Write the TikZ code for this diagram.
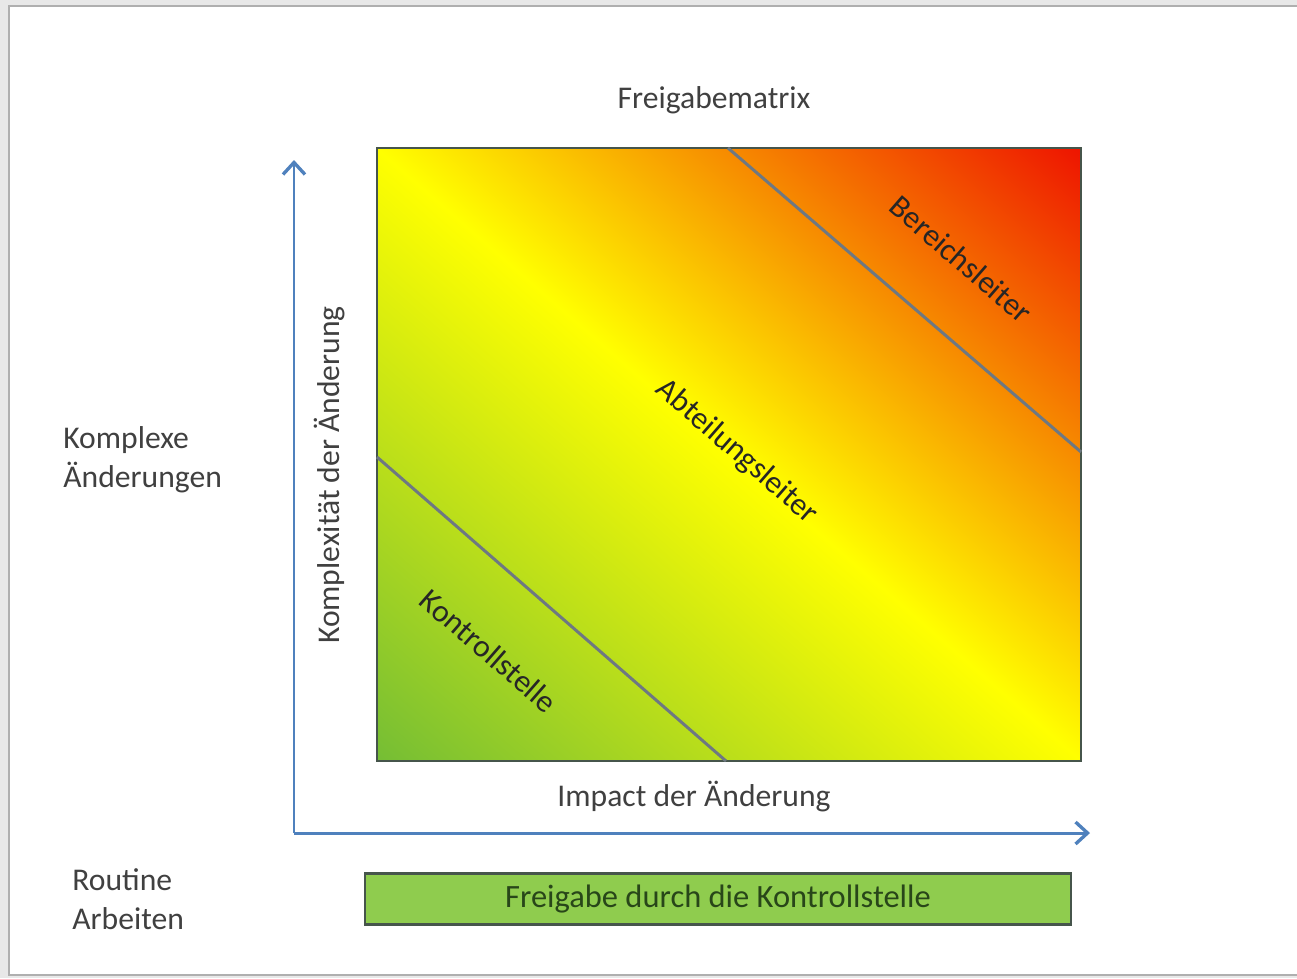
\documentclass[tikz,border=0pt]{standalone}
\usepackage{fontspec}
\setmainfont{Carlito}
\usepackage{tikz}
\usetikzlibrary{arrows.meta, positioning, calc}
\usepackage{xcolor}
\definecolor{frameback}{RGB}{232,232,232}
\definecolor{frameline}{RGB}{175,175,175}
\definecolor{labelgray}{RGB}{64,64,64}
\definecolor{axisblue}{RGB}{79,129,189}
\definecolor{borderdark}{RGB}{70,85,75}
\definecolor{splitgray}{RGB}{110,120,130}
\definecolor{boxgreen}{RGB}{143,204,78}
\definecolor{boxtext}{RGB}{40,70,25}
\definecolor{lowgreen}{RGB}{118,190,52}
\definecolor{midyellow}{RGB}{255,255,0}
\definecolor{topred}{RGB}{238,22,0}
\pgfdeclarehorizontalshading{freigabeshade}{100bp}{color(0bp)=(lowgreen); color(15bp)=(lowgreen); color(50bp)=(midyellow); color(85bp)=(topred); color(100bp)=(topred)}

\begin{document}
\begin{tikzpicture}[
    x=0.02cm, y=-0.02cm,
    label/.style={font=\fontsize{18}{22}\selectfont, text=labelgray, align=left, inner sep=0pt},
    region/.style={font=\fontsize{18}{22}\selectfont, text=black!85, inner sep=0pt, rotate=-41},
    axis/.style={-{Straight Barb[length=2.4mm, width=4.4mm, line width=1.9pt]}, line width=1.7pt, draw=axisblue},
    split/.style={line width=1.7pt, draw=splitgray},
    routinebox/.style={rectangle, draw=borderdark, fill=boxgreen, line width=1.4pt, minimum width=706*0.02cm, minimum height=51*0.02cm, font=\fontsize{18.5}{22}\selectfont, text=boxtext},
]
    % Frame
    \useasboundingbox (0,0) rectangle (1297,978);
    \fill[frameback] (0,0) rectangle (1297,978);
    \draw[frameline, fill=white, line width=1.2pt] (9,6) rectangle (1310,975);

    % Title
    \node[label] (title) at (714,100) {Freigabematrix};

    % Matrix
    \coordinate (msw) at (377,761);
    \coordinate (mne) at (1081,148);
    \shade[shading=freigabeshade, shading angle=49] (msw) rectangle (mne);
    \draw[borderdark, line width=1.4pt] (msw) rectangle (mne);

    % Split lines
    \coordinate (upA) at (728,148);
    \coordinate (upB) at (1081,452);
    \coordinate (loA) at (377,457);
    \coordinate (loB) at (726,761);
    \draw[split] (upA) -- (upB);
    \draw[split] (loA) -- (loB);

    % Region labels
    \node[region] (bereich) at (961,259) {Bereichsleiter};
    \node[region] (abteilung) at (737,452) {Abteilungsleiter};
    \node[region] (kontroll) at (489,651) {Kontrollstelle};

    % Axes
    \coordinate (origin) at (294,833);
    \coordinate (ytip) at (294,160);
    \coordinate (xtip) at (1090,833);
    \draw[axis] (origin) -- (ytip);
    \draw[axis] (origin) -- (xtip);

    % Axis labels
    \node[label, rotate=90] (ylab) at (330,475) {Komplexität der Änderung};
    \node[label] (xlab) at (694,797) {Impact der Änderung};

    % Side labels
    \node[label, anchor=west] (komplex) at (63,460) {Komplexe\\Änderungen};
    \node[label, anchor=west] (routine) at (72,899) {Routine\\Arbeiten};

    % Routine box
    \node[routinebox] (freigabe) at (718,899) {Freigabe durch die Kontrollstelle};
\end{tikzpicture}
\end{document}
